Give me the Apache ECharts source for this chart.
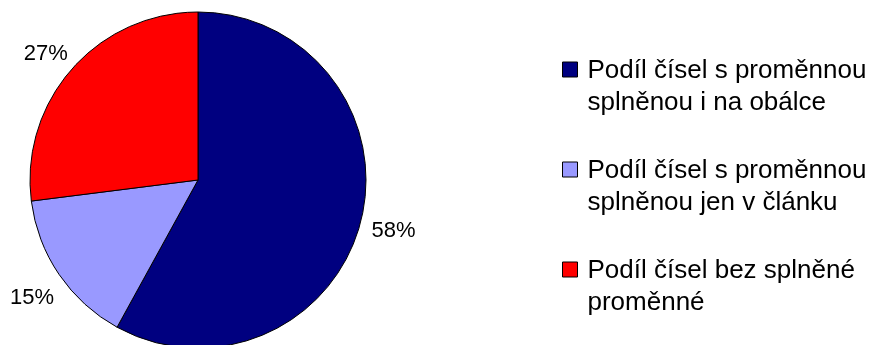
<!DOCTYPE html>
<html>
<head>
<meta charset="utf-8">
<script src="https://cdn.jsdelivr.net/npm/echarts@6/dist/echarts.min.js"></script>
<style>
  html, body { margin: 0; padding: 0; background: #fff; }
  #chart { width: 871px; height: 345px; }
</style>
</head>
<body>
<div id="chart"></div>
<script>
// Share of numbers by whether the variable is fulfilled
const categories = [
  'Podíl čísel s proměnnou\nsplněnou i na obálce',
  'Podíl čísel s proměnnou\nsplněnou jen v článku',
  'Podíl čísel bez splněné\nproměnné'
];
const shares = [58, 15, 27];
const colors = ['#000080', '#9999FF', '#FF0000'];
// small nudges of the percentage labels, in px
const labelNudges = [[-1, 0], [2, 4], [0, 8]];

const FONT = "'Liberation Sans', Arial, Helvetica, sans-serif";
const CENTER = [198, 180];

const pieData = categories.map((name, i) => ({
  name: name,
  value: shares[i],
  itemStyle: { color: colors[i] }
}));

const labelData = categories.map((name, i) => ({
  name: name,
  value: shares[i],
  label: { offset: labelNudges[i] }
}));

const chart = echarts.init(document.getElementById('chart'), null, { renderer: 'canvas' });

chart.setOption({
  animation: false,
  backgroundColor: '#ffffff',
  legend: {
    orient: 'vertical',
    left: 562,
    top: 20,
    padding: 0,
    itemGap: 1,
    itemWidth: 15,
    itemHeight: 15,
    icon: 'rect',
    selectedMode: false,
    itemStyle: { borderColor: '#000', borderWidth: 1 },
    // a blank leading line keeps the square level with the first text line
    formatter: name => '{gap| }\n' + name,
    textStyle: {
      fontFamily: FONT,
      fontSize: 26,
      lineHeight: 32,
      color: '#000',
      padding: [0, 0, 0, 5],
      rich: {
        gap: { fontSize: 10, lineHeight: 35 }
      }
    },
    data: categories
  },
  series: [
    {
      type: 'pie',
      center: CENTER,
      radius: 168,
      startAngle: 90,
      clockwise: true,
      silent: true,
      itemStyle: { borderColor: '#000', borderWidth: 1 },
      label: { show: false },
      labelLine: { show: false },
      data: pieData
    },
    {
      // invisible ring that carries the percentage labels outside the pie
      type: 'pie',
      center: CENTER,
      radius: [175, 225],
      startAngle: 90,
      clockwise: true,
      silent: true,
      itemStyle: { color: 'rgba(0,0,0,0)', borderWidth: 0 },
      label: {
        show: true,
        position: 'inside',
        formatter: p => p.value + '%',
        fontFamily: FONT,
        fontSize: 22,
        color: '#000'
      },
      labelLine: { show: false },
      data: labelData
    }
  ]
});
</script>
</body>
</html>
